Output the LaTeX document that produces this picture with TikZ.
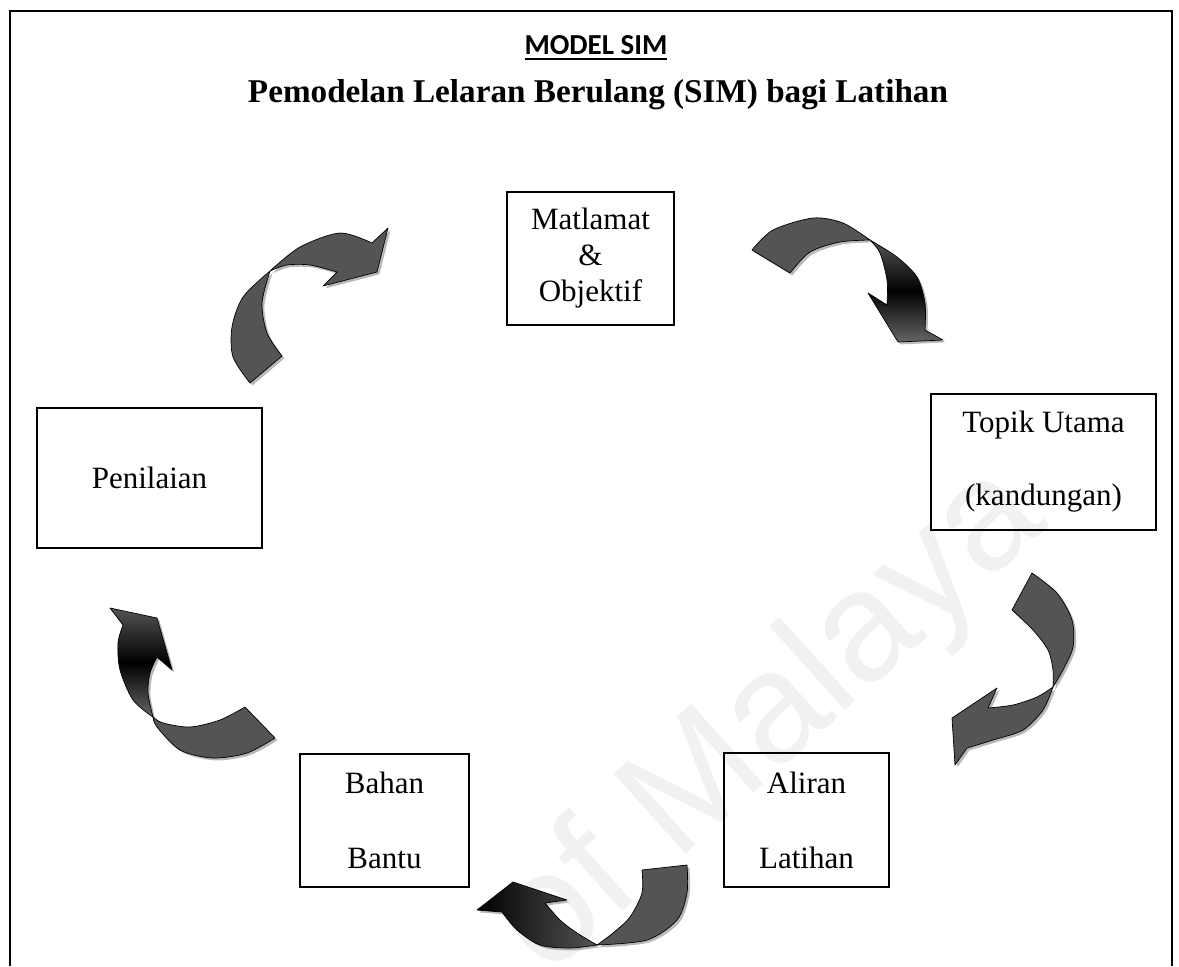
\documentclass[tikz,border=0pt]{standalone}
\usepackage{fontspec}
\setmainfont{Liberation Serif}
\newfontfamily\titlefont{Carlito}
\newfontfamily\markfont{Liberation Sans}
\definecolor{ribgray}{HTML}{545454}
\definecolor{marktext}{HTML}{F1F1F1}
\begin{document}
\begin{tikzpicture}[x=0.5pt,y=-0.5pt,
  stagebox/.style={draw=black, line width=0.9pt, align=center, inner sep=0pt},
  bodytext/.style={font=\fontsize{15.5}{#1}\selectfont},
  ribbon/.style={draw=black, line width=0.35pt, line join=round,
    preaction={fill=black, opacity=0.28, transform canvas={shift={(1.2pt,-1.2pt)}}}},
  flatribbon/.style={ribbon, fill=ribgray},
  vribbon/.style={ribbon, top color=ribgray, bottom color=ribgray!90!white, middle color=black},
  hribbon/.style={ribbon, left color=black, right color=ribgray}]
\useasboundingbox (0,0) rectangle (1179,966);
\fill[white] (0,0) rectangle (1179,966);

% faint watermark
\node[rotate=42, text=marktext, font=\markfont\fontsize{78}{78}\selectfont] (mark) at (772,722) {of Malaya};

% outer frame (open at the bottom)
\coordinate (fbl) at (10,966);
\coordinate (ftl) at (10,11);
\coordinate (ftr) at (1172,11);
\coordinate (fbr) at (1172,966);
\draw[line width=1.4pt, line join=miter] (fbl) -- (ftl) -- (ftr) -- (fbr);

% headings
\node[font=\titlefont\bfseries\fontsize{14.5}{16}\selectfont] (heading) at (596,48)
  {\vtop{\hbox{MODEL SIM}\kern1.3pt\hrule height 1.2pt}};
\node[font=\bfseries\fontsize{16.6}{19}\selectfont] (subhead) at (598,95)
  {Pemodelan Lelaran Berulang (SIM) bagi Latihan};

% the five stages
\node[stagebox, bodytext=18, minimum width=83.5pt, minimum height=66.5pt] (goal) at (590.5,258.5)
  {Matlamat\\ \&\\ Objektif};
\node[stagebox, bodytext=36.5, minimum width=112.5pt, minimum height=68pt] (topic) at (1043.5,462)
  {Topik Utama\\ (kandungan)};
\node[stagebox, bodytext=37.5, minimum width=82.5pt, minimum height=67pt] (flow) at (806.5,820)
  {Aliran\\ Latihan};
\node[stagebox, bodytext=37.5, minimum width=84.5pt, minimum height=66.5pt] (media) at (384.5,820.5)
  {Bahan\\ Bantu};
\node[stagebox, bodytext=18, minimum width=112.5pt, minimum height=70pt] (assess) at (149.5,478)
  {Penilaian};

% twisted ribbon arrows, each drawn as tail piece + head piece
% Penilaian -> Matlamat
\path[flatribbon] plot[smooth] coordinates {(282,356) (267,333) (262,303) (270,271)}
  -- plot[smooth] coordinates {(270,271) (243,297) (232,327) (233,357) (250,383)} -- cycle;
\path[flatribbon] plot[smooth] coordinates {(270,271) (300,247) (340,233) (372,243)}
  -- (388,228) -- (377,272) -- (323,286) -- (337,272)
  -- plot[smooth] coordinates {(337,272) (310,265) (287,265) (270,271)} -- cycle;

% Matlamat -> Topik Utama
\path[flatribbon] plot[smooth] coordinates {(752,250) (773,230) (813,218) (843,223) (870,240)}
  -- plot[smooth] coordinates {(870,240) (840,242) (810,252) (790,273)} -- cycle;
\path[vribbon] plot[smooth] coordinates {(870,240) (897,257) (917,277) (925,303) (925,330)}
  -- (943,340) -- (898,342) -- (868,293) -- (887,305)
  -- plot[smooth] coordinates {(887,305) (887,280) (880,253) (870,240)} -- cycle;

% Topik Utama -> Aliran Latihan
\path[flatribbon] plot[smooth] coordinates {(1012,610) (1033,630) (1048,650) (1053,670) (1053,687)}
  -- plot[smooth] coordinates {(1053,687) (1063,670) (1073,647) (1072,620) (1057,593) (1032,573)} -- cycle;
\path[flatribbon] plot[smooth] coordinates {(1053,687) (1043,710) (1023,730) (993,740) (967,748)}
  -- (955,765) -- (952,718) -- (997,688) -- (988,708)
  -- plot[smooth] coordinates {(988,708) (1013,705) (1037,697) (1053,687)} -- cycle;

% Aliran Latihan -> Bahan Bantu
\path[flatribbon] plot[smooth] coordinates {(687,865) (687,893) (677,920) (647,940) (597,945)}
  -- plot[smooth] coordinates {(597,945) (613,933) (630,917) (642,893) (642,870)} -- cycle;
\path[hribbon] plot[smooth] coordinates {(597,945) (570,948) (540,945) (517,930) (502,912)}
  -- (477,910) -- (513,882) -- (567,900) -- (545,903)
  -- plot[smooth] coordinates {(545,903) (560,920) (577,933) (597,945)} -- cycle;

% Bahan Bantu -> Penilaian
\path[flatribbon] plot[smooth] coordinates {(275,738) (247,753) (213,758) (180,750) (157,727) (153,717)}
  -- plot[smooth] coordinates {(153,717) (163,723) (190,727) (220,720) (245,707)} -- cycle;
\path[vribbon] plot[smooth] coordinates {(153,717) (133,700) (120,670) (118,643) (123,625)}
  -- (110,608) -- (157,618) -- (172,670) -- (157,657)
  -- plot[smooth] coordinates {(157,657) (150,673) (148,693) (153,717)} -- cycle;
\end{tikzpicture}
\end{document}
